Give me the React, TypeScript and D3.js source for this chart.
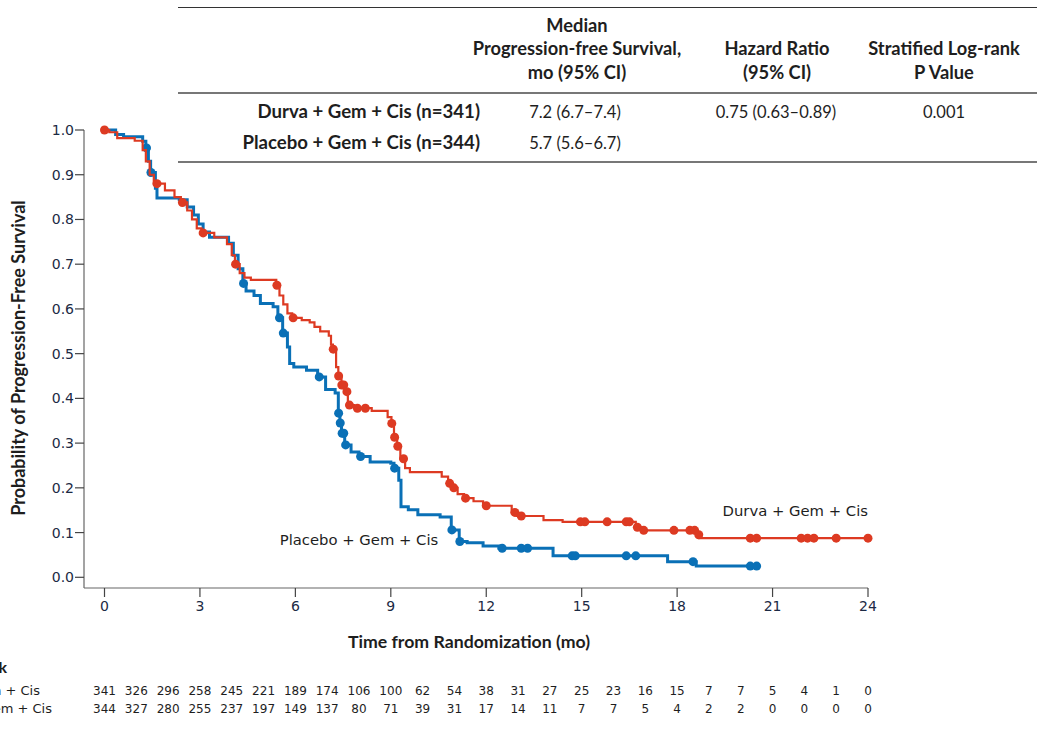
import React from "react";
import * as d3 from "d3";

// ---- Data ----
const monthTicks = [0, 3, 6, 9, 12, 15, 18, 21, 24];
const survTicks = [0, 0.1, 0.2, 0.3, 0.4, 0.5, 0.6, 0.7, 0.8, 0.9, 1.0];

// Durva + Gem + Cis: [time (mo), survival after step]
const durvaSteps: [number, number][] = [
  [0, 1.0], [0.15, 0.995], [0.4, 0.982], [0.95, 0.976], [1.2, 0.955], [1.3, 0.93],
  [1.42, 0.9], [1.55, 0.88], [1.9, 0.865], [2.2, 0.85], [2.4, 0.838], [2.6, 0.82],
  [2.75, 0.8], [2.9, 0.78], [3.05, 0.77], [3.45, 0.76], [3.85, 0.745], [4.0, 0.72],
  [4.1, 0.7], [4.25, 0.68], [4.4, 0.67], [4.6, 0.665], [5.4, 0.653], [5.5, 0.63],
  [5.62, 0.61], [5.75, 0.59], [5.9, 0.58], [6.2, 0.575], [6.45, 0.57], [6.6, 0.56],
  [6.78, 0.55], [7.05, 0.54], [7.12, 0.52], [7.18, 0.51], [7.28, 0.47], [7.35, 0.45],
  [7.45, 0.43], [7.55, 0.415], [7.65, 0.385], [7.85, 0.378], [8.4, 0.372], [8.9, 0.358],
  [9.02, 0.344], [9.1, 0.313], [9.2, 0.293], [9.3, 0.265], [9.45, 0.244], [9.6, 0.235],
  [10.6, 0.225], [10.8, 0.21], [10.95, 0.2], [11.1, 0.186], [11.3, 0.177], [11.6, 0.17],
  [11.9, 0.16], [12.8, 0.145], [12.95, 0.137], [13.8, 0.128], [14.4, 0.124], [16.7, 0.112],
  [16.9, 0.105], [18.6, 0.095], [18.7, 0.0875],
];
const durvaEnd = 24;
const durvaCensor = [
  0, 1.65, 2.45, 3.1, 4.12, 5.42, 5.93, 7.19, 7.36, 7.46, 7.52, 7.62, 7.7, 7.95, 8.2,
  9.03, 9.12, 9.22, 9.4, 10.85, 10.98, 11.35, 12.0, 12.9, 13.1, 14.96, 15.1, 15.8,
  16.4, 16.5, 16.75, 16.95, 17.9, 18.4, 18.55, 18.68, 20.3, 20.5, 21.9, 22.1, 22.3,
  23.0, 24.0,
];

// Placebo + Gem + Cis
const placeboSteps: [number, number][] = [
  [0, 1.0], [0.35, 0.99], [0.6, 0.985], [1.2, 0.975], [1.3, 0.96], [1.38, 0.93],
  [1.45, 0.905], [1.6, 0.87], [1.65, 0.848], [2.35, 0.844], [2.6, 0.828], [2.8, 0.81],
  [2.95, 0.79], [3.1, 0.772], [3.3, 0.76], [3.9, 0.747], [4.05, 0.72], [4.2, 0.69],
  [4.35, 0.657], [4.45, 0.64], [4.7, 0.63], [4.9, 0.612], [5.3, 0.605], [5.45, 0.58],
  [5.6, 0.546], [5.75, 0.515], [5.82, 0.478], [5.95, 0.47], [6.35, 0.463], [6.7, 0.448],
  [6.95, 0.42], [7.25, 0.412], [7.35, 0.367], [7.4, 0.345], [7.45, 0.322], [7.55, 0.296],
  [7.75, 0.28], [8.0, 0.27], [8.35, 0.258], [9.0, 0.255], [9.1, 0.244], [9.25, 0.217],
  [9.32, 0.158], [9.55, 0.151], [9.85, 0.14], [10.55, 0.135], [10.9, 0.106], [11.15, 0.08],
  [11.4, 0.077], [11.9, 0.07], [12.4, 0.065], [14.1, 0.048], [17.7, 0.035], [18.6, 0.025],
];
const placeboEnd = 20.5;
const placeboCensor = [
  1.32, 1.46, 4.37, 5.5, 5.62, 6.75, 7.36, 7.41, 7.47, 7.52, 7.58, 8.05, 9.12, 10.92,
  11.17, 12.5, 13.1, 13.3, 14.7, 14.8, 16.4, 16.7, 18.5, 20.3, 20.5,
];

const atRiskDurva = [341, 326, 296, 258, 245, 221, 189, 174, 106, 100, 62, 54, 38, 31, 27, 25, 23, 16, 15, 7, 7, 5, 4, 1, 0];
const atRiskPlacebo = [344, 327, 280, 255, 237, 197, 149, 137, 80, 71, 39, 31, 17, 14, 11, 7, 7, 5, 4, 2, 2, 0, 0, 0, 0];

const tableHeaders = [
  { lines: ["Median", "Progression-free Survival,", "mo (95% CI)"], cx: 577 },
  { lines: ["Hazard Ratio", "(95% CI)"], cx: 777 },
  { lines: ["Stratified Log-rank", "P Value"], cx: 944 },
];
const tableRows = [
  { label: "Durva + Gem + Cis (n=341)", median: "7.2 (6.7–7.4)", hr: "0.75 (0.63–0.89)", p: "0.001" },
  { label: "Placebo + Gem + Cis (n=344)", median: "5.7 (5.6–6.7)", hr: "", p: "" },
];

const RED = "#dd3a22";
const BLUE = "#0a70b6";
const TEXT = "#1e1e1e";
const HEAD_FONT = "Lato, 'Open Sans', sans-serif";
const NUM_FONT = "'DejaVu Sans', sans-serif";

function stepValue(steps: [number, number][], t: number) {
  let v = steps[0][1];
  for (const [st, sv] of steps) {
    if (st <= t) v = sv;
    else break;
  }
  return v;
}

export default function App() {
  const W = 1037, H = 733;
  const x = d3.scaleLinear().domain([0, 24]).range([104.5, 868]);
  const y = d3.scaleLinear().domain([0, 1]).range([577.3, 130]);
  const axisY = 588;
  const axisX = 84;

  const line = d3
    .line<[number, number]>()
    .x((d) => x(d[0]))
    .y((d) => y(d[1]))
    .curve(d3.curveStepAfter);

  const durvaPts: [number, number][] = [...durvaSteps, [durvaEnd, durvaSteps[durvaSteps.length - 1][1]]];
  const placeboPts: [number, number][] = [...placeboSteps, [placeboEnd, placeboSteps[placeboSteps.length - 1][1]]];

  const months = d3.range(0, 25);

  return (
    <svg
      width={W}
      height={H}
      style={{ position: "absolute", left: 0, top: 0, background: "#fff" }}
      fontFamily={HEAD_FONT}
    >
      {/* Summary table */}
      <line x1={178} x2={W} y1={7.5} y2={7.5} stroke="#333" strokeWidth={1} />
      <line x1={178} x2={W} y1={93} y2={93} stroke="#777" strokeWidth={2} />
      <line x1={178} x2={W} y1={162} y2={162} stroke="#777" strokeWidth={2} />
      {tableHeaders.map((h, i) =>
        h.lines.map((ln, j) => {
          const baseY = 78.5 - (h.lines.length - 1 - j) * 23.5;
          return (
            <text key={`h${i}-${j}`} x={h.cx} y={baseY} textAnchor="middle" fontWeight={700} fontSize={18.3} fill={TEXT}>
              {ln}
            </text>
          );
        })
      )}
      {tableRows.map((r, i) => {
        const by = 118 + i * 31;
        return (
          <g key={`r${i}`} fontSize={16.5} fill={TEXT}>
            <text x={480} y={by} textAnchor="end" fontWeight={700} fontSize={18.6}>{r.label}</text>
            <text x={575} y={by} textAnchor="middle">{r.median}</text>
            <text x={776} y={by} textAnchor="middle">{r.hr}</text>
            <text x={944} y={by} textAnchor="middle">{r.p}</text>
          </g>
        );
      })}

      {/* Axes */}
      <line x1={axisX} x2={axisX} y1={y(1)} y2={axisY} stroke="#666" strokeWidth={1.2} />
      <line x1={axisX} x2={x(24)} y1={axisY} y2={axisY} stroke="#666" strokeWidth={1.2} />
      {survTicks.map((t) => (
        <g key={`yt${t}`}>
          <line x1={axisX - 9} x2={axisX} y1={y(t)} y2={y(t)} stroke="#444" strokeWidth={1.2} />
          <text x={axisX - 10} y={y(t) + 5} textAnchor="end" fontFamily={NUM_FONT} fontSize={14} fill="#1c2a44">
            {t.toFixed(1)}
          </text>
        </g>
      ))}
      {monthTicks.map((t) => (
        <g key={`xt${t}`}>
          <line x1={x(t)} x2={x(t)} y1={axisY} y2={axisY + 9} stroke="#444" strokeWidth={1.2} />
          <text x={x(t)} y={axisY + 23} textAnchor="middle" fontFamily={NUM_FONT} fontSize={14} fill="#1c2a44">
            {t}
          </text>
        </g>
      ))}
      <text x={469} y={648} textAnchor="middle" fontWeight={700} fontSize={17.7} fill={TEXT}>
        Time from Randomization (mo)
      </text>
      <text
        transform={`translate(25, 358) rotate(-90)`}
        textAnchor="middle"
        fontWeight={700}
        fontSize={18}
        fill={TEXT}
      >
        Probability of Progression-Free Survival
      </text>

      {/* Curves */}
      <path d={line(placeboPts) || ""} fill="none" stroke={BLUE} strokeWidth={3} />
      {placeboCensor.map((t, i) => (
        <circle key={`pc${i}`} cx={x(t)} cy={y(stepValue(placeboSteps, t))} r={4.5} fill={BLUE} />
      ))}
      <path d={line(durvaPts) || ""} fill="none" stroke={RED} strokeWidth={2.2} />
      {durvaCensor.map((t, i) => (
        <circle key={`dc${i}`} cx={x(t)} cy={y(stepValue(durvaSteps, t))} r={4.5} fill={RED} />
      ))}

      {/* Curve labels */}
      <text x={868} y={516} textAnchor="end" fontFamily={NUM_FONT} fontSize={14.8} fill={TEXT}>
        Durva + Gem + Cis
      </text>
      <text x={359} y={545} textAnchor="middle" fontFamily={NUM_FONT} fontSize={14.8} fill={TEXT}>
        Placebo + Gem + Cis
      </text>

      {/* At-risk table */}
      <text x={7} y={673} textAnchor="end" fontWeight={700} fontSize={16} fill={TEXT}>
        No. at Risk
      </text>
      <text x={40} y={695} textAnchor="end" fontFamily={NUM_FONT} fontSize={13} fill={TEXT}>
        Durva + Gem + Cis
      </text>
      <text x={52} y={713} textAnchor="end" fontFamily={NUM_FONT} fontSize={13} fill={TEXT}>
        Placebo + Gem + Cis
      </text>
      {months.map((m) => (
        <g key={`ar${m}`} fontFamily={NUM_FONT} fontSize={12} fill={TEXT} textAnchor="middle">
          <text x={x(m)} y={695}>{atRiskDurva[m]}</text>
          <text x={x(m)} y={713}>{atRiskPlacebo[m]}</text>
        </g>
      ))}
    </svg>
  );
}
